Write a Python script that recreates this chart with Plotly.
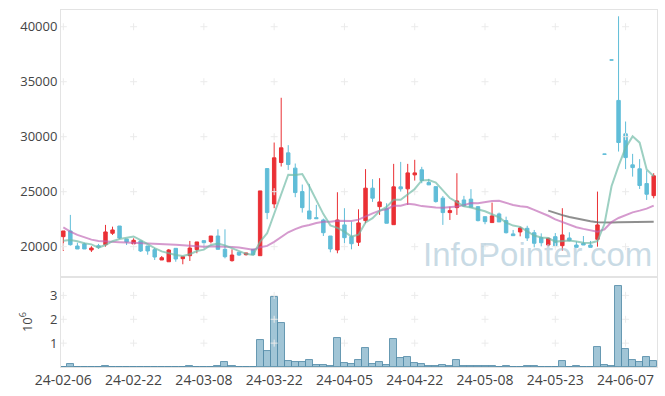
import plotly.graph_objects as go
from plotly.subplots import make_subplots

dates = [
    "24-02-06", "24-02-07", "24-02-08", "24-02-13", "24-02-14", "24-02-15", "24-02-16", "24-02-19", "24-02-20", "24-02-21",
    "24-02-22", "24-02-23", "24-02-26", "24-02-27", "24-02-28", "24-02-29", "24-03-04", "24-03-05", "24-03-06", "24-03-07",
    "24-03-08", "24-03-11", "24-03-12", "24-03-13", "24-03-14", "24-03-15", "24-03-18", "24-03-19", "24-03-20", "24-03-21",
    "24-03-22", "24-03-25", "24-03-26", "24-03-27", "24-03-28", "24-03-29", "24-04-01", "24-04-02", "24-04-03", "24-04-04",
    "24-04-05", "24-04-08", "24-04-09", "24-04-11", "24-04-12", "24-04-15", "24-04-16", "24-04-17", "24-04-18", "24-04-19",
    "24-04-22", "24-04-23", "24-04-24", "24-04-25", "24-04-26", "24-04-29", "24-04-30", "24-05-02", "24-05-03", "24-05-07",
    "24-05-08", "24-05-09", "24-05-10", "24-05-13", "24-05-14", "24-05-16", "24-05-17", "24-05-20", "24-05-21", "24-05-22",
    "24-05-23", "24-05-24", "24-05-27", "24-05-28", "24-05-29", "24-05-30", "24-05-31", "24-06-03", "24-06-04", "24-06-05",
    "24-06-07", "24-06-10", "24-06-11", "24-06-12", "24-06-13",
]

open_ = [
    20910, 21430, 20060, 20250, 19700, 20090, 20180, 21220, 21880, 20700,
    20250, 20520, 20060, 19730, 18790, 18630, 19850, 18910, 19180, 19730,
    20550, 20460, 20970, 19760, 18730, 19490, 19270, 19760, 19180, 27100,
    23890, 27650, 28530, 27140, 25010, 23250, 22640, 22430, 20970, 19700,
    21980, 20910, 20400, 22370, 25320, 23640, 23460, 22000, 25440, 25260,
    26530, 26990, 25830, 25460, 24410, 23100, 23550, 24250, 24320, 23640,
    22730, 22190, 22980, 22370, 21160, 21340, 21670, 21270, 20820, 20150,
    20910, 20090, 20790, 20150, 20310, 20150, 20670, 28420, 36980, 33300,
    30260, 27440, 27080, 25740, 24640,
]
high = [
    21430, 22890, 20360, 20360, 20040, 20250, 21980, 21820, 21880, 20700,
    20760, 20520, 20060, 19880, 19150, 19790, 19850, 19090, 20520, 20430,
    20550, 20970, 21580, 21580, 19760, 19490, 19430, 19800, 25070, 27150,
    29470, 33540, 29230, 27560, 25650, 25710, 23800, 22550, 20970, 24950,
    23500, 22280, 23400, 27050, 26140, 26230, 23950, 27530, 27710, 27530,
    27900, 27260, 26170, 25460, 24600, 23640, 26680, 24620, 25230, 23700,
    22730, 24010, 23100, 22730, 21520, 21820, 21900, 21520, 21210, 20800,
    21240, 23500, 21310, 20460, 20970, 20520, 25010, 28420, 36980, 40950,
    31380, 28440, 27960, 26920, 26680,
]
low = [
    19610, 20100, 19790, 19790, 19520, 19790, 20000, 21070, 20700, 20150,
    20250, 19520, 19270, 18790, 18790, 18630, 18630, 18400, 18700, 19400,
    19850, 20300, 19760, 18940, 18640, 19150, 19200, 19270, 19180, 22500,
    23500, 27290, 26980, 24500, 23100, 22520, 22550, 20970, 19490, 19400,
    20310, 19760, 20060, 22130, 24070, 22890, 22130, 22000, 25010, 23800,
    26010, 25770, 25600, 24010, 21980, 22430, 22890, 23650, 23590, 22300,
    22040, 22190, 22250, 21200, 21000, 20940, 20520, 19940, 20030, 20030,
    20090, 19640, 20490, 19940, 20150, 19940, 20000, 28410, 36970, 28650,
    27050, 26370, 25250, 24250, 24400,
]
close = [
    21430, 20180, 19790, 19790, 19880, 19950, 21340, 21520, 20790, 20430,
    20580, 19610, 19610, 19060, 19000, 19700, 18880, 19090, 19880, 20430,
    20360, 20970, 19760, 19090, 19240, 19240, 19430, 19270, 25070, 23100,
    28080, 28990, 27470, 24920, 23550, 22520, 22550, 21270, 19790, 22430,
    20820, 20270, 22160, 25320, 24410, 24070, 22130, 25440, 25260, 26710,
    26710, 26010, 25620, 24100, 23100, 23280, 24160, 23700, 23590, 22370,
    22280, 22800, 22250, 21270, 21000, 21700, 20790, 20310, 20360, 20760,
    20090, 21070, 20550, 19940, 20150, 19940, 21980, 28410, 36970, 29470,
    28100, 27190, 25560, 24770, 26440,
]
volume = [
    0, 110000, 0, 0, 0, 0, 40000, 0, 0, 0,
    0, 0, 0, 0, 0, 0, 0, 0, 30000, 0,
    0, 0, 30000, 200000, 30000, 0, 0, 0, 1120000, 670000,
    2930000, 1840000, 240000, 200000, 200000, 280000, 70000, 70000, 30000, 1200000,
    150000, 110000, 280000, 790000, 110000, 200000, 70000, 1160000, 360000, 410000,
    150000, 110000, 30000, 30000, 70000, 30000, 280000, 30000, 30000, 30000,
    30000, 30000, 0, 20000, 0, 0, 20000, 20000, 0, 0,
    0, 240000, 0, 20000, 0, 0, 830000, 70000, 20000, 3390000,
    740000, 290000, 210000, 410000, 250000,
]
ma5 = [
    20550, 20600, 20490, 20310, 20210, 19920, 20150, 20500, 20700, 20810,
    20930, 20590, 20200, 19860, 19570, 19400, 19250, 19150, 19310, 19600,
    19730, 20150, 20280, 20120, 19880, 19660, 19350, 19250, 20450, 21220,
    22990, 24900, 26540, 26510, 26600, 25490, 24200, 22960, 21940, 21710,
    21370, 20920, 21090, 22200, 22600, 23250, 23620, 24270, 24260, 24720,
    25250, 26030, 26060, 25830, 25110, 24420, 24050, 23670, 23570, 23420,
    23220, 22950, 22660, 22190, 21920, 21800, 21400, 21010, 20830, 20780,
    20460, 20520, 20570, 20480, 20360, 20330, 20510, 22080, 25490, 27350,
    28990, 30030, 29460, 27020, 26410,
]
ma20 = [
    21750, 21370, 21070, 20820, 20640, 20520, 20460, 20430, 20400, 20370,
    20350, 20320, 20290, 20260, 20230, 20200, 20170, 20140, 20110, 20050,
    19990, 20030, 20030, 20000, 19970, 19930, 19830, 19720, 19940, 20070,
    20440, 20910, 21310, 21600, 21830, 21970, 22150, 22260, 22260, 22360,
    22380, 22340, 22460, 22780, 23030, 23280, 23410, 23720, 23730, 23910,
    23840, 23690, 23600, 23560, 23540, 23570, 23650, 23780, 23970, 23960,
    24040, 24160, 24170, 23960, 23790, 23670, 23610, 23350, 23110, 22810,
    22480, 22230, 21980, 21770, 21620, 21450, 21350, 21580, 22250, 22610,
    22900, 23120, 23280, 23460, 23730,
]
ma_long_start = "24-05-22"
ma_long = [
    23280, 23060, 22870, 22700, 22560, 22430, 22320, 22230, 22200, 22210,
    22220, 22230, 22240, 22250, 22250, 22260,
]

tick_labels = ["24-02-06", "24-02-22", "24-03-08", "24-03-22", "24-04-05",
               "24-04-22", "24-05-08", "24-05-23", "24-06-07"]
price_ticks = [20000, 25000, 30000, 35000, 40000]
vol_ticks = [1000000, 2000000, 3000000]
vol_tick_text = ["1", "2", "3"]

UP = "#ea3035"
DOWN = "#60bdd8"
FRAME = "#e3e3e3"
CROSS = "#ebebeb"
TXT = "#444444"
FONT = "Open Sans"

fig = make_subplots(rows=2, cols=1, shared_xaxes=True, vertical_spacing=0,
                    row_heights=[0.748, 0.252])

# grid crosses at tick intersections
cx = [t for t in tick_labels for _ in price_ticks]
cy = [v for _ in tick_labels for v in price_ticks]
fig.add_trace(go.Scatter(x=cx, y=cy, mode="markers",
                         marker=dict(symbol="cross-thin", size=5,
                                     line=dict(color=CROSS, width=1)),
                         showlegend=False, hoverinfo="skip"), row=1, col=1)
vx = [t for t in tick_labels for _ in vol_ticks]
vy = [v for _ in tick_labels for v in vol_ticks]
fig.add_trace(go.Scatter(x=vx, y=vy, mode="markers",
                         marker=dict(symbol="cross-thin", size=5,
                                     line=dict(color=CROSS, width=1)),
                         showlegend=False, hoverinfo="skip"), row=2, col=1)

fig.add_trace(go.Candlestick(
    x=dates, open=open_, high=high, low=low, close=close,
    increasing=dict(line=dict(color=UP, width=1), fillcolor=UP),
    decreasing=dict(line=dict(color=DOWN, width=1), fillcolor=DOWN),
    showlegend=False, hoverinfo="skip"), row=1, col=1)

ma_long_x = dates[dates.index(ma_long_start):]
fig.add_trace(go.Scatter(x=ma_long_x, y=ma_long, mode="lines",
                         line=dict(color="rgba(105,105,105,0.75)", width=2),
                         showlegend=False, hoverinfo="skip"), row=1, col=1)
fig.add_trace(go.Scatter(x=dates, y=ma20, mode="lines",
                         line=dict(color="rgba(190,100,180,0.65)", width=2),
                         showlegend=False, hoverinfo="skip"), row=1, col=1)
fig.add_trace(go.Scatter(x=dates, y=ma5, mode="lines",
                         line=dict(color="rgba(110,185,165,0.68)", width=2),
                         showlegend=False, hoverinfo="skip"), row=1, col=1)

fig.add_trace(go.Bar(x=dates, y=volume,
                     marker=dict(color="rgba(125,175,198,0.72)",
                                 line=dict(color="rgba(85,140,168,0.85)", width=1)),
                     showlegend=False, hoverinfo="skip"), row=2, col=1)

xr = [-0.33, 84.47]
fig.update_xaxes(type="category", categoryorder="array", categoryarray=dates,
                 range=xr, showgrid=False, showline=True,
                 mirror=True, linecolor=FRAME, linewidth=1, zeroline=False,
                 ticks="", rangeslider_visible=False)
fig.update_xaxes(showticklabels=False, row=1, col=1)
fig.update_xaxes(tickmode="array", tickvals=tick_labels, ticktext=tick_labels,
                 tickfont=dict(family=FONT, size=14, color=TXT), row=2, col=1)

fig.update_yaxes(range=[17240, 41520], tickmode="array", tickvals=price_ticks,
                 tickformat="d",
                 showgrid=False, showline=True, mirror=True, linecolor=FRAME,
                 zeroline=False, ticks="", tickfont=dict(family=FONT, size=13, color=TXT),
                 row=1, col=1)
fig.update_yaxes(range=[0, 3770000], tickmode="array", tickvals=vol_ticks,
                 ticktext=vol_tick_text, showgrid=False, showline=True, mirror=True,
                 linecolor=FRAME, zeroline=False, ticks="",
                 tickfont=dict(family=FONT, size=13, color=TXT),
                 title=dict(text="10<sup>6</sup>", font=dict(family=FONT, size=13, color=TXT),
                            standoff=14),
                 row=2, col=1)

fig.add_annotation(text="InfoPointer.com", xref="paper", yref="paper",
                   x=0.80, y=0.314, xanchor="center", yanchor="middle", showarrow=False,
                   font=dict(family="Liberation Sans", size=33, color="rgba(165,195,212,0.6)"))

fig.update_layout(width=665, height=396, margin=dict(l=61, r=8, t=10, b=29),
                  paper_bgcolor="white", plot_bgcolor="white", bargap=0,
                  showlegend=False, font=dict(family=FONT, color=TXT))

fig.write_html("out.html", config={"displayModeBar": False},
               post_script="document.body.style.margin='0';")
